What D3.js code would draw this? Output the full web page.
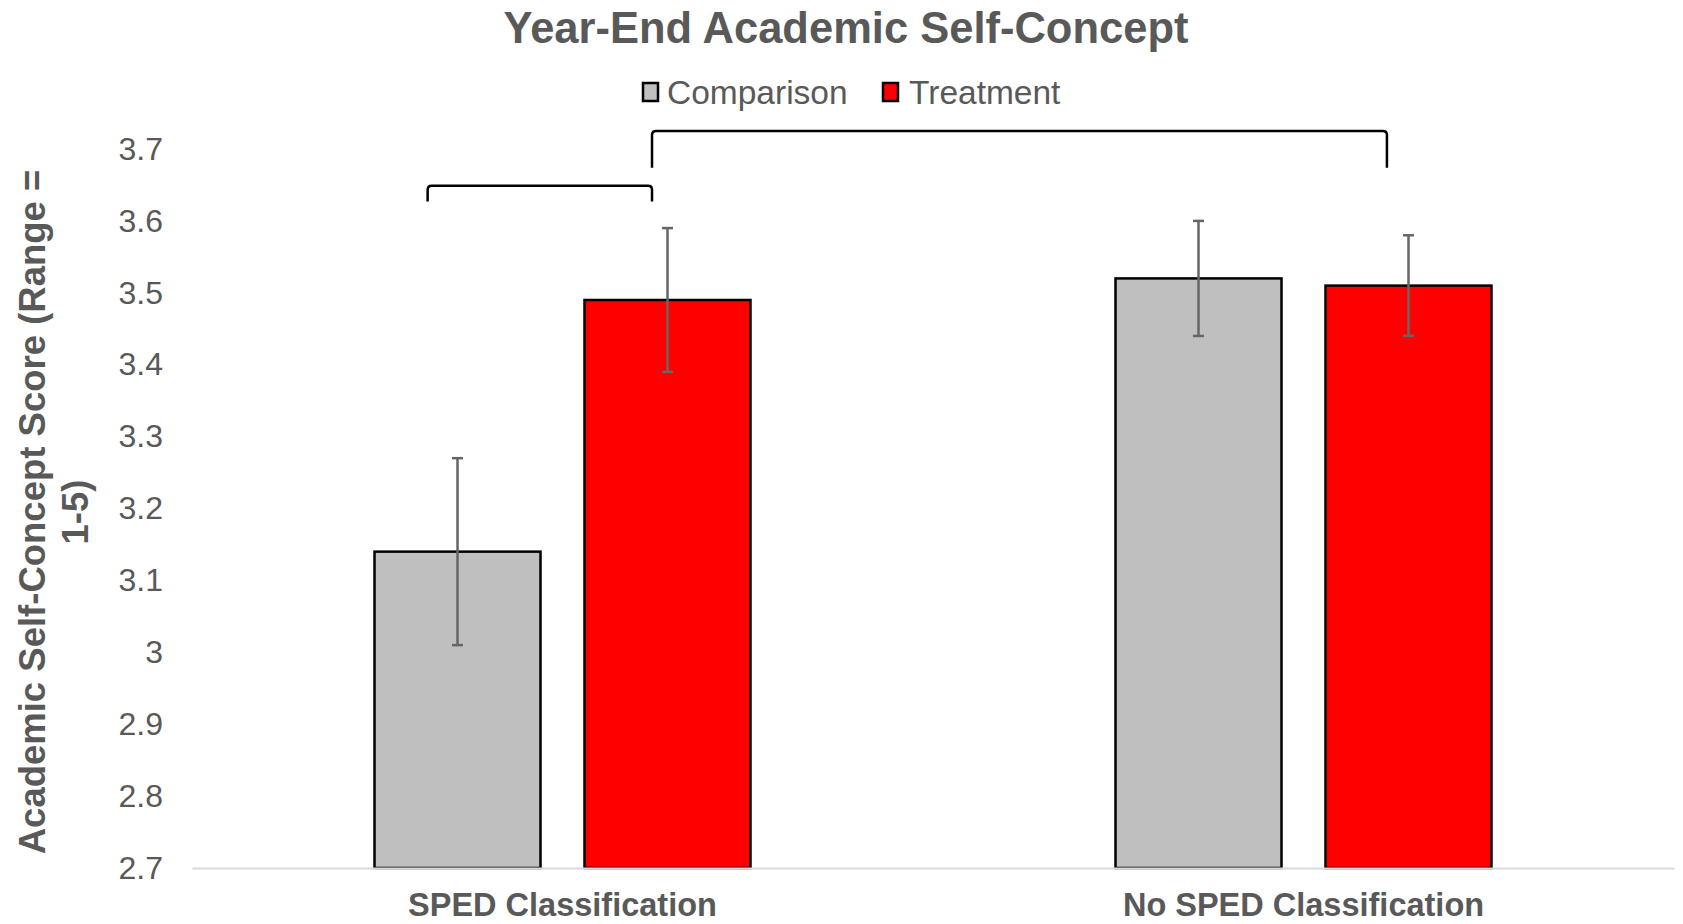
<!DOCTYPE html>
<html>
<head>
<meta charset="utf-8">
<script src="https://cdn.jsdelivr.net/npm/d3@7"></script>
<style>
  html, body { margin: 0; padding: 0; background: #fff; }
  svg { display: block; font-family: "Liberation Sans", Arial, sans-serif; }
</style>
</head>
<body>
<svg id="chart" width="1683" height="924"></svg>
<script>
// ---- data ----
const categories = ["SPED Classification", "No SPED Classification"];
const seriesNames = ["Comparison", "Treatment"];
const comparisonValues = [3.14, 3.52];
const treatmentValues = [3.49, 3.51];
const comparisonErrLow = [3.01, 3.44];
const comparisonErrHigh = [3.27, 3.60];
const treatmentErrLow = [3.39, 3.44];
const treatmentErrHigh = [3.59, 3.58];
const yTicks = [2.7, 2.8, 2.9, 3.0, 3.1, 3.2, 3.3, 3.4, 3.5, 3.6, 3.7];
const titleText = "Year-End Academic Self-Concept";
const yTitleLines = ["Academic Self-Concept Score (Range =", "1-5)"];
// bracket annotations: x as fraction of plot width, y in data units
const brackets = [
  { x1: 0.159, x2: 0.3104, yTop: 3.649, yLeg: 3.627 },
  { x1: 0.3104, x2: 0.8063, yTop: 3.725, yLeg: 3.674 }
];

const colors = { Comparison: "#bfbfbf", Treatment: "#ff0000" };
const textColor = "#595959";

const svg = d3.select("#chart");
const margin = { left: 192, right: 9, top: 149, bottom: 56 };
const W = 1683, H = 924;
const plotW = W - margin.left - margin.right;
const plotH = H - margin.top - margin.bottom;

const g = svg.append("g").attr("transform", `translate(${margin.left},${margin.top})`);

const y = d3.scaleLinear().domain([2.7, 3.7]).range([plotH, 0]);
const x0 = d3.scaleBand().domain(categories).range([0, plotW])
  .paddingInner(0.4926).paddingOuter(0.2463);
const x1 = d3.scaleBand().domain(seriesNames).range([0, x0.bandwidth()])
  .paddingInner(0.2095).paddingOuter(0);

const rows = categories.map((c, i) => ({
  cat: c,
  items: [
    { s: "Comparison", v: comparisonValues[i], lo: comparisonErrLow[i], hi: comparisonErrHigh[i] },
    { s: "Treatment", v: treatmentValues[i], lo: treatmentErrLow[i], hi: treatmentErrHigh[i] }
  ]
}));

// title
svg.append("text")
  .attr("x", 846).attr("y", 43)
  .attr("text-anchor", "middle")
  .attr("font-size", 43.5).attr("font-weight", "bold")
  .attr("fill", textColor)
  .text(titleText);

// legend
const legend = svg.append("g");
const legendItems = [
  { s: "Comparison", sx: 643, tx: 667 },
  { s: "Treatment", sx: 883, tx: 909 }
];
legendItems.forEach(it => {
  legend.append("rect")
    .attr("x", it.sx).attr("y", 83).attr("width", 15).attr("height", 18)
    .attr("fill", colors[it.s]).attr("stroke", "#000").attr("stroke-width", 2.5);
  legend.append("text")
    .attr("x", it.tx).attr("y", 104)
    .attr("font-size", 33.5).attr("fill", textColor)
    .text(it.s);
});

// y axis
const yAxis = d3.axisLeft(y).tickValues(yTicks).tickSize(0).tickPadding(29)
  .tickFormat(d => String(+d.toFixed(1)));
const ya = g.append("g").call(yAxis);
ya.select(".domain").remove();
ya.selectAll("text").attr("font-size", 32).attr("fill", textColor)
  .attr("font-family", "Liberation Sans, Arial, sans-serif");

// y title
const yt = svg.append("text")
  .attr("transform", `translate(45, 512) rotate(-90)`)
  .attr("text-anchor", "middle")
  .attr("font-size", 36.5).attr("font-weight", "bold").attr("fill", textColor);
yTitleLines.forEach((l, i) => {
  yt.append("tspan").attr("x", 0).attr("dy", i === 0 ? 0 : 43).text(l);
});

// bars
const groups = g.selectAll(".grp").data(rows).join("g")
  .attr("transform", d => `translate(${x0(d.cat)},0)`);
groups.selectAll("rect").data(d => d.items).join("rect")
  .attr("x", d => x1(d.s))
  .attr("y", d => y(d.v))
  .attr("width", x1.bandwidth())
  .attr("height", d => y(2.7) - y(d.v))
  .attr("fill", d => colors[d.s])
  .attr("stroke", "#000").attr("stroke-width", 2.5);

// x axis line
const xa = g.append("g").attr("transform", `translate(0,${plotH})`)
  .call(d3.axisBottom(x0).tickSize(0).tickPadding(25));
xa.select(".domain").attr("stroke", "#d9d9d9").attr("stroke-width", 2);
xa.selectAll("text").attr("font-size", 32.5).attr("font-weight", "bold")
  .attr("fill", textColor).attr("font-family", "Liberation Sans, Arial, sans-serif");

// error bars
const eb = groups.selectAll(".eb").data(d => d.items).join("g").attr("class", "eb");
const capW = 11;
eb.append("line")
  .attr("x1", d => x1(d.s) + x1.bandwidth() / 2)
  .attr("x2", d => x1(d.s) + x1.bandwidth() / 2)
  .attr("y1", d => y(d.lo)).attr("y2", d => y(d.hi))
  .attr("stroke", "#666").attr("stroke-width", 2.5);
["lo", "hi"].forEach(k => {
  eb.append("line")
    .attr("x1", d => x1(d.s) + x1.bandwidth() / 2 - capW / 2)
    .attr("x2", d => x1(d.s) + x1.bandwidth() / 2 + capW / 2)
    .attr("y1", d => y(d[k])).attr("y2", d => y(d[k]))
    .attr("stroke", "#666").attr("stroke-width", 2.5);
});

// brackets
const r = 4;
brackets.forEach(b => {
  const xa1 = b.x1 * plotW, xa2 = b.x2 * plotW;
  const yt1 = y(b.yTop), yl = y(b.yLeg);
  const p = d3.path();
  p.moveTo(xa1, yl);
  p.lineTo(xa1, yt1 + r);
  p.quadraticCurveTo(xa1, yt1, xa1 + r, yt1);
  p.lineTo(xa2 - r, yt1);
  p.quadraticCurveTo(xa2, yt1, xa2, yt1 + r);
  p.lineTo(xa2, yl);
  g.append("path").attr("d", p.toString())
    .attr("fill", "none").attr("stroke", "#000").attr("stroke-width", 2.5);
});
</script>
</body>
</html>
